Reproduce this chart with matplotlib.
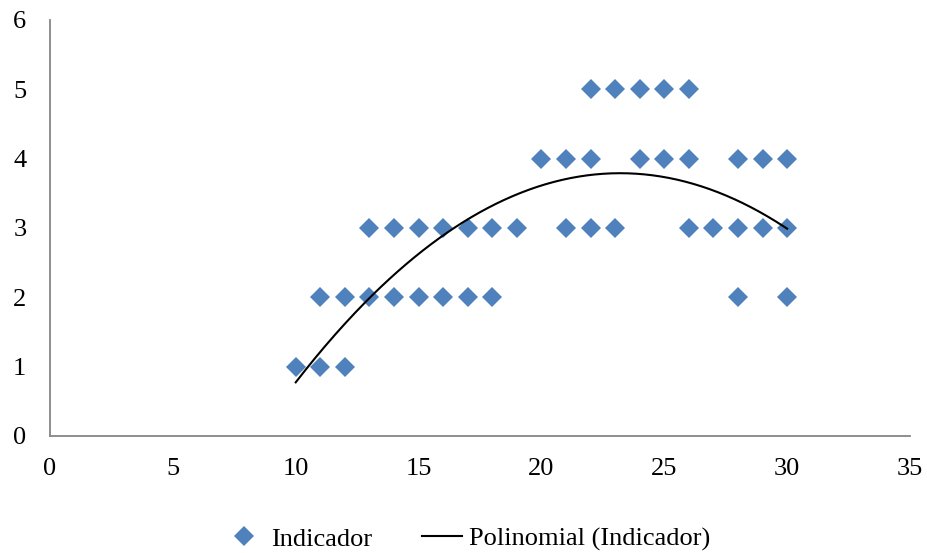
import numpy as np
import matplotlib
matplotlib.use("Agg")
import matplotlib.pyplot as plt

plt.rcParams['font.family'] = ['Liberation Serif', 'DejaVu Serif']

# Data
x_vals = [10, 11, 12,
          11, 12, 13, 14, 15, 16, 17, 18, 28, 30,
          13, 14, 15, 16, 17, 18, 19, 21, 22, 23, 26, 27, 28, 29, 30,
          20, 21, 22, 24, 25, 26, 28, 29, 30,
          22, 23, 24, 25, 26]
y_vals = [1, 1, 1,
          2, 2, 2, 2, 2, 2, 2, 2, 2, 2,
          3, 3, 3, 3, 3, 3, 3, 3, 3, 3, 3, 3, 3, 3, 3,
          4, 4, 4, 4, 4, 4, 4, 4, 4,
          5, 5, 5, 5, 5]
# Polynomial (order 2) trendline coefficients, estimated from the drawn curve
trend_coef = [-0.01731, 0.8032, -5.527]
trend_range = [10, 30]
x_ticks = [0, 5, 10, 15, 20, 25, 30, 35]
y_ticks = [0, 1, 2, 3, 4, 5, 6]
series_name = "Indicador"
trend_name = "Polinomial (Indicador)"

x = np.array(x_vals, dtype=float)
y = np.array(y_vals, dtype=float)
xs = np.linspace(trend_range[0], trend_range[1], 300)
ys = np.polyval(trend_coef, xs)

fig = plt.figure(figsize=(9.27, 5.53), dpi=100)
ax = fig.add_axes([50/927, 1-436/553, 860/927, 416/553])

ax.plot(x, y, linestyle='none', marker='D', markersize=10.3,
        color='#4F81BD', markeredgewidth=0, label=series_name, zorder=3)
ax.plot(xs, ys, color='black', linewidth=1.5, label=trend_name, zorder=4)

ax.set_xlim(0, 35)
ax.set_ylim(0, 6)
ax.set_xticks(x_ticks)
ax.set_yticks(y_ticks)
ax.tick_params(length=0, labelsize=19, colors='black')
ax.tick_params(axis='x', pad=16)
ax.tick_params(axis='y', pad=17)
for s in ['top', 'right']:
    ax.spines[s].set_visible(False)
for s in ['left', 'bottom']:
    ax.spines[s].set_color('#868686')
    ax.spines[s].set_linewidth(1.3)
ax.patch.set_alpha(0)

fig.legend(loc='center', bbox_to_anchor=(467/927, 1-539/553), ncol=2,
           frameon=False, fontsize=19, handlelength=1.52, columnspacing=1.9,
           handletextpad=0.25)

fig.savefig('out.png', dpi=100)
